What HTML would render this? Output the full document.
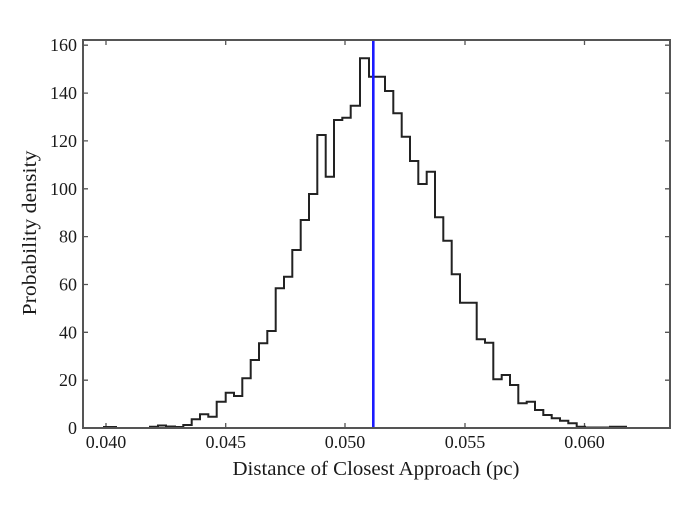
<!DOCTYPE html>
<html><head><meta charset="utf-8"><style>
body{margin:0;background:#fff}
svg text{font-family:"Liberation Serif",serif;fill:#1a1a1a}
</style></head><body>
<svg width="692" height="502" viewBox="0 0 692 502" xmlns="http://www.w3.org/2000/svg">
<rect width="692" height="502" fill="#fff"/>
<g stroke="#555" stroke-width="1.3">
<path d="M106 428v-5M225.7 428v-5M345 428v-5M465 428v-5M584.5 428v-5M106 40v5M225.7 40v5M345 40v5M465 40v5M584.5 40v5"/>
<path d="M83 428h5M83 380.2h5M83 332.3h5M83 284.5h5M83 236.6h5M83 188.8h5M83 140.9h5M83 93.1h5M83 45.2h5M670 428h-5M670 380.2h-5M670 332.3h-5M670 284.5h-5M670 236.6h-5M670 188.8h-5M670 140.9h-5M670 93.1h-5M670 45.2h-5"/>
</g>
<path fill="none" stroke="#222" stroke-width="2" d="M104 428V427H116V428H150V426.7H158V425.5H166V426.5H175V427H183.3V425H191.7V419.3H200V414.3H208.3V416.7H216.7V401.7H225.7V392.7H234V396H242.3V378.3H250.7V360H259V343.3H267.3V331H275.7V288.3H284V276.7H292.3V250H300.7V220H309V194H317.3V135H325.7V176.7H334V120H342.3V117.7H350.7V105.7H360V58.3H369V76.7H385V91H393.3V113.3H401.7V136.7H410V161H418.3V184H426.7V171.7H435V217.3H443.3V240.7H451.7V274.3H460V302.7H476.7V339.3H485V342.7H493.3V379.3H501.7V375H510V385H518.3V403.3H526.7V401.7H535V410H543.3V415H551.7V418.3H560V420.7H568.3V423.3H576.7V426.7H585V427.5H610V426.8H626V428"/>
<line x1="373.3" y1="40" x2="373.3" y2="428" stroke="#1a1aff" stroke-width="2.6"/>
<rect x="83" y="40" width="587" height="388" fill="none" stroke="#555" stroke-width="2"/>
<g font-size="18" text-anchor="end">
<text x="77" y="434">0</text><text x="77" y="386.2">20</text><text x="77" y="338.3">40</text><text x="77" y="290.5">60</text><text x="77" y="242.6">80</text><text x="77" y="194.8">100</text><text x="77" y="146.9">120</text><text x="77" y="99.1">140</text><text x="77" y="51.2">160</text>
</g>
<g font-size="18" text-anchor="middle">
<text x="106" y="448">0.040</text><text x="225.7" y="448">0.045</text><text x="345" y="448">0.050</text><text x="465" y="448">0.055</text><text x="584.5" y="448">0.060</text>
</g>
<g font-size="20" text-anchor="middle">
<text x="376" y="475" textLength="287" lengthAdjust="spacingAndGlyphs">Distance of Closest Approach (pc)</text>
<text transform="translate(36 233) rotate(-90)" textLength="165" lengthAdjust="spacingAndGlyphs">Probability density</text>
</g>
</svg>
</body></html>
